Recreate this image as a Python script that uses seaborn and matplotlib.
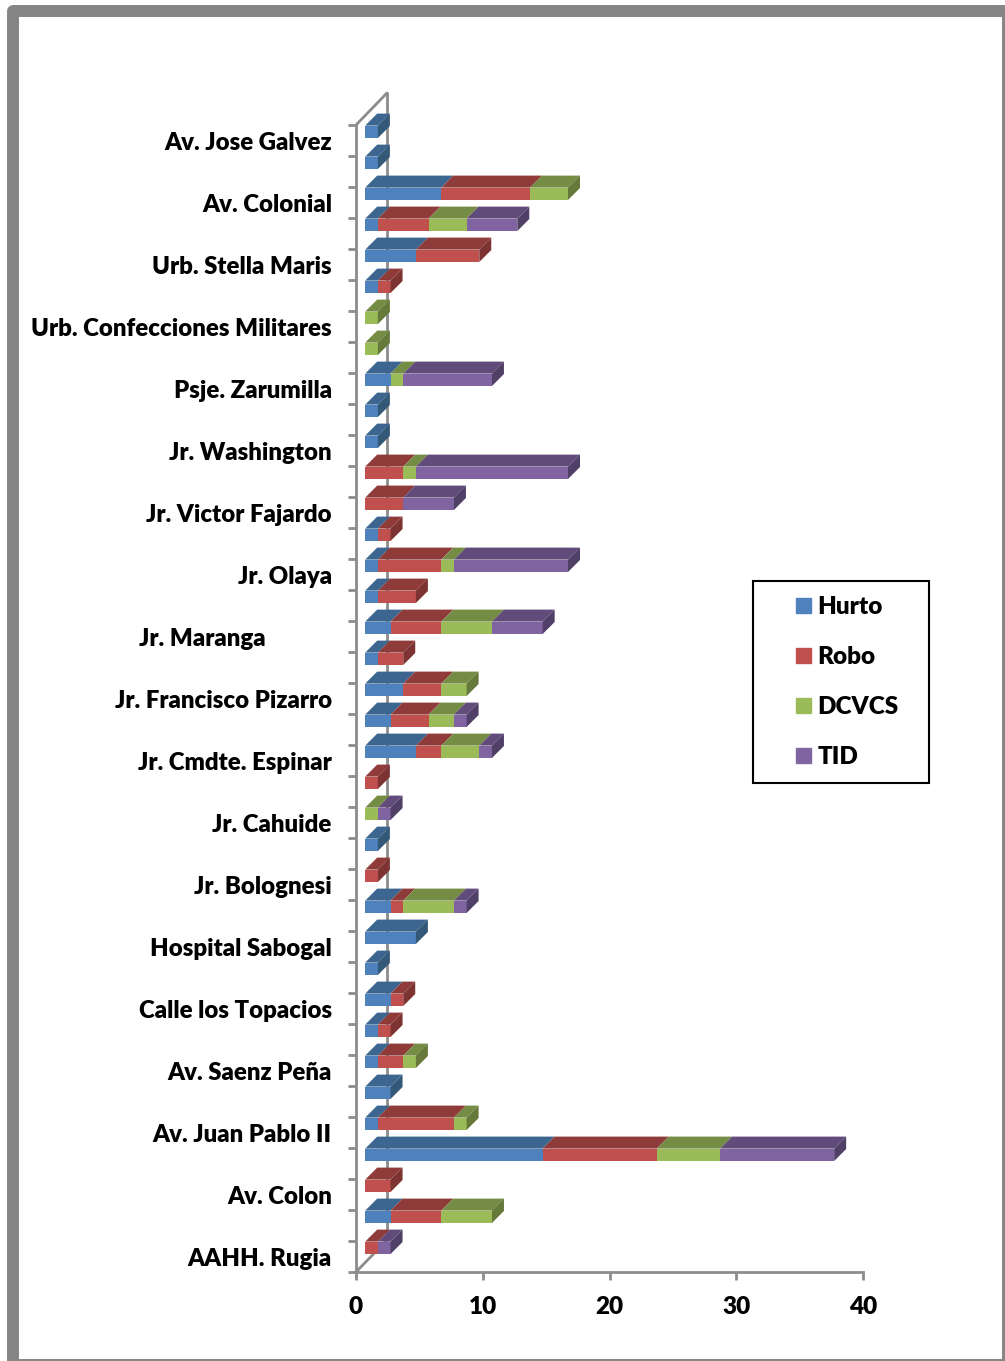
import numpy as np
import pandas as pd
import matplotlib
matplotlib.use("Agg")
import matplotlib.pyplot as plt
import seaborn as sns
from matplotlib.collections import PolyCollection
from matplotlib.legend_handler import HandlerPatch
from matplotlib.patches import FancyBboxPatch, Patch, Rectangle
from matplotlib.transforms import Affine2D

# one entry per row, top to bottom; street names sit on every other row
streets = ["Av. Jose Galvez", "Av. Colonial", "Urb. Stella Maris", "Urb. Confecciones Militares",
           "Psje. Zarumilla", "Jr. Washington", "Jr. Victor Fajardo", "Jr. Olaya",
           "Jr. Maranga" + "\u00a0" * 12, "Jr. Francisco Pizarro", "Jr. Cmdte. Espinar", "Jr. Cahuide",
           "Jr. Bolognesi", "Hospital Sabogal", "Calle los Topacios", "Av. Saenz Peña",
           "Av. Juan Pablo II", "Av. Colon", "AAHH. Rugia"]
hurto = [1, 1, 6, 1, 4, 1, 0, 0, 2, 1, 1, 0, 0, 1, 1, 1, 2, 1, 3, 2, 4, 0, 0, 1, 0, 2, 4, 1, 2, 1, 1, 2, 1, 14, 0, 2, 0]
robo = [0, 0, 7, 4, 5, 1, 0, 0, 0, 0, 0, 3, 3, 1, 5, 3, 4, 2, 3, 3, 2, 1, 0, 0, 1, 1, 0, 0, 1, 1, 2, 0, 6, 9, 2, 4, 1]
dcvcs = [0, 0, 3, 3, 0, 0, 1, 1, 1, 0, 0, 1, 0, 0, 1, 0, 4, 0, 2, 2, 3, 0, 1, 0, 0, 4, 0, 0, 0, 0, 1, 0, 1, 5, 0, 4, 0]
tid = [0, 0, 0, 4, 0, 0, 0, 0, 7, 0, 0, 12, 4, 0, 9, 0, 4, 0, 0, 1, 1, 0, 1, 0, 0, 1, 0, 0, 0, 0, 0, 0, 0, 9, 0, 0, 1]

names = ["Hurto", "Robo", "DCVCS", "TID"]
colors = ["#4f81bd", "#c0504d", "#9bbb59", "#8064a2"]
tops = ["#3c6590", "#8e3b39", "#748c43", "#604b7a"]
sides = ["#345878", "#7c3331", "#657a3a", "#503f66"]
GRAY = "#8c8c8c"

W, H = 1005, 1361
BAR = 0.4

sns.set_style("white")
plt.rcParams["font.family"] = ["Lato", "DejaVu Sans"]
plt.rcParams["font.weight"] = "heavy"
plt.rcParams["text.color"] = "black"

fig = plt.figure(figsize=(W / 100, H / 100), dpi=100)
ax = fig.add_axes([356 / W, 1 - 1272 / H, (863 - 356) / W, (1272 - 125) / H])
ax.patch.set_alpha(0)

# outer picture frame
fig.patches.append(FancyBboxPatch((13 / W, 1 - 1365 / H), 995 / W, 1354 / H,
                                  boxstyle="square,pad=0", transform=fig.transFigure,
                                  fc="white", ec="#858585", lw=8.6, joinstyle="round",
                                  figure=fig, zorder=-1))

rows = np.arange(len(hurto))
series = np.array([hurto, robo, dcvcs, tid], dtype=float)
cum = series.cumsum(axis=0)
df = pd.DataFrame({"row": rows})

# stacked look: longest cumulative bar first, shorter ones over it
for i in [3, 2, 1, 0]:
    df["end"] = cum[i]
    sns.barplot(data=df, x="end", y="row", orient="h", color=colors[i], saturation=1,
                width=BAR, ax=ax)

ax.set_xlim(0, 40)
ax.set_ylim(36.5, -0.5)

shift = ax.transData + Affine2D().translate(9.2, 8.7)
for p in ax.patches:
    p.set_transform(shift)
    p.set_clip_on(False)
    p.set_linewidth(0)

# 3d faces of the bars
dx = 12 / (507 / 40)
dy = 12 / 31
for i in range(4):
    polys, side_polys = [], []
    for r in rows:
        if series[i, r] == 0:
            continue
        x0, x1 = cum[i, r] - series[i, r], cum[i, r]
        y0, y1 = r - BAR / 2, r + BAR / 2
        polys.append([(x0, y0), (x1, y0), (x1 + dx, y0 - dy), (x0 + dx, y0 - dy)])
        if x1 == cum[3, r]:
            side_polys.append([(x1, y0), (x1, y1), (x1 + dx, y1 - dy), (x1 + dx, y0 - dy)])
    ax.add_collection(PolyCollection(polys, facecolors=tops[i], edgecolors="none",
                                     transform=shift, clip_on=False, zorder=1.5))
    ax.add_collection(PolyCollection(side_polys, facecolors=sides[i], edgecolors="none",
                                     transform=shift, clip_on=False, zorder=1.5))

# back wall and floor edges
wx = 31 / (507 / 40)
wy = 32 / 31
ax.plot([wx, wx], [-0.5 - wy, 36.5 - wy], color=GRAY, lw=2, clip_on=False, zorder=0.5)
ax.plot([0, wx], [-0.5, -0.5 - wy], color=GRAY, lw=2, clip_on=False, zorder=0.5)
ax.plot([0, wx], [36.5, 36.5 - wy], color=GRAY, lw=2, clip_on=False, zorder=0.5)

for s in ["top", "right"]:
    ax.spines[s].set_visible(False)
for s in ["left", "bottom"]:
    ax.spines[s].set_color(GRAY)
    ax.spines[s].set_linewidth(2)

ax.set_xlabel("")
ax.set_ylabel("")
ax.set_xticks([0, 10, 20, 30, 40])
ax.set_yticks(rows[::2])
ax.set_yticklabels(streets)
ax.set_yticks(np.arange(-0.5, 37), minor=True)
ax.tick_params(axis="y", which="major", length=0, pad=17.4, labelsize=17.25, labelcolor="black")
ax.tick_params(axis="y", which="minor", length=6, width=2, color=GRAY, left=True)
ax.tick_params(axis="x", length=6, width=2, color=GRAY, pad=11.5, labelsize=17.5,
               labelcolor="black", bottom=True)


def square_handle(legend, orig_handle, xdescent, ydescent, width, height, fontsize):
    side = 15 * 0.72
    return Rectangle((width - side - xdescent, (height - side) / 2 - ydescent), side, side)


handles = [Patch(color=c, label=n) for c, n in zip(colors, names)]
leg = fig.legend(handles=handles, loc="center", mode="expand",
                 bbox_to_anchor=(753 / W, 1 - 782 / H, 176 / W, 200 / H),
                 fontsize=17.5, frameon=True, fancybox=False, framealpha=1, edgecolor="black",
                 borderpad=0.62, borderaxespad=0, labelspacing=1.15, handlelength=1.76,
                 handletextpad=0.26,
                 handler_map={Patch: HandlerPatch(patch_func=square_handle)})
leg.get_frame().set_linewidth(1.5)

fig.savefig("out.png", dpi=100)
